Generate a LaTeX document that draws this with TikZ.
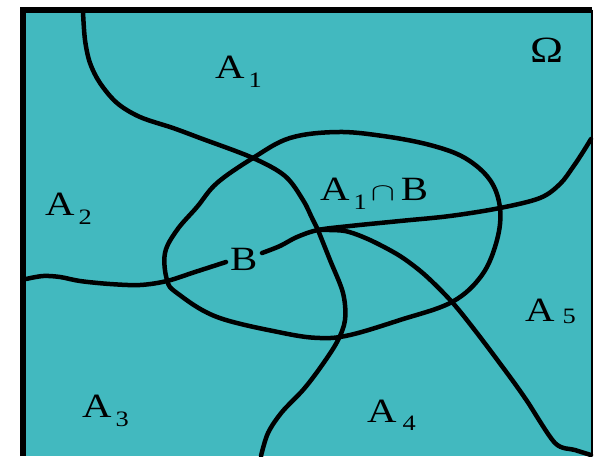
\documentclass[tikz,border=0pt]{standalone}
\usepackage{fontspec}
\usepackage{graphicx}
\setmainfont{Liberation Serif}[FakeStretch=1.2]
\definecolor{teal}{RGB}{66,185,191}
\newcommand\subx[1]{\hspace{4pt}\raisebox{-9pt}{\fontsize{22}{22}\selectfont #1}}
\begin{document}
\begin{tikzpicture}[x=1pt,y=-1pt,
  curve/.style={line width=4.5pt, line cap=round, line join=round},
  lbl/.style={inner sep=0pt, anchor=base west, font=\fontsize{34}{34}\selectfont}]
\useasboundingbox (0,0) rectangle (597,456);
\fill[teal] (23,10) rectangle (592,456);
\draw[line width=6pt] (23,456) -- (23,9.5) -- (592,9.5);
\draw[line width=1.5pt] (592,9.5) -- (592,456);
% region boundaries
\coordinate (c) at (318,230);
\draw[curve] plot[smooth, tension=0.55] coordinates {(83,12) (85,40) (90,63) (100,83) (117,103) (140,117) (173,128) (200,138) (253,158) (285,176) (303,200) (312,218) (c)};
\draw[curve] plot[smooth, tension=0.55] coordinates {(c) (330,260) (343,293) (345,320) (337,342) (320,368) (303,390) (282,412) (268,433) (261,456)};
\draw[curve] plot[smooth, tension=0.55] coordinates {(26,279) (43,276) (60,277) (80,281) (110,284) (140,285) (167,281) (195,272) (226,262)};
\draw[curve] plot[smooth, tension=0.55] coordinates {(262,253) (280,246) (297,237) (c) (350,226) (400,221) (450,216) (500,208) (540,198) (560,184) (573,167) (583,152) (591,139)};
\draw[curve] plot[smooth, tension=0.5] coordinates {(c) (345,231) (370,240) (400,256) (425,275) (452,302) (477,333) (510,377) (527,401) (555,443) (575,450) (591,455)};
% event B
\draw[curve] plot[smooth cycle, tension=0.6] coordinates {(253,158) (290,138) (337,132) (383,136) (430,145) (465,158) (490,180) (500,208) (497,240) (482,275) (452,302) (400,320) (350,335) (320,338) (283,333) (217,317) (177,293) (167,280) (165,253) (177,230) (197,207) (217,183)};
% labels
\node[lbl] (a1) at (215,78) {A\subx{1}};
\node[lbl] (a2) at (45,215) {A\subx{2}};
\node[lbl] (a3) at (82,417) {A\subx{3}};
\node[lbl] (a4) at (367,422) {A\hspace{6pt}\raisebox{-8pt}{\fontsize{22}{22}\selectfont 4}};
\node[lbl] (a5) at (525,321) {A\hspace{8pt}\raisebox{-2pt}{\fontsize{22}{22}\selectfont 5}};
\node[lbl] (b) at (230,270) {B};
\node[lbl] (ab) at (320,200) {A\subx{1}\hspace{4pt}\scalebox{1.45}[1.0]{$\cap$}\hspace{6pt}B};
\node[lbl, font=\fontsize{37}{37}\selectfont] (om) at (530,62) {Ω};
\end{tikzpicture}
\end{document}
